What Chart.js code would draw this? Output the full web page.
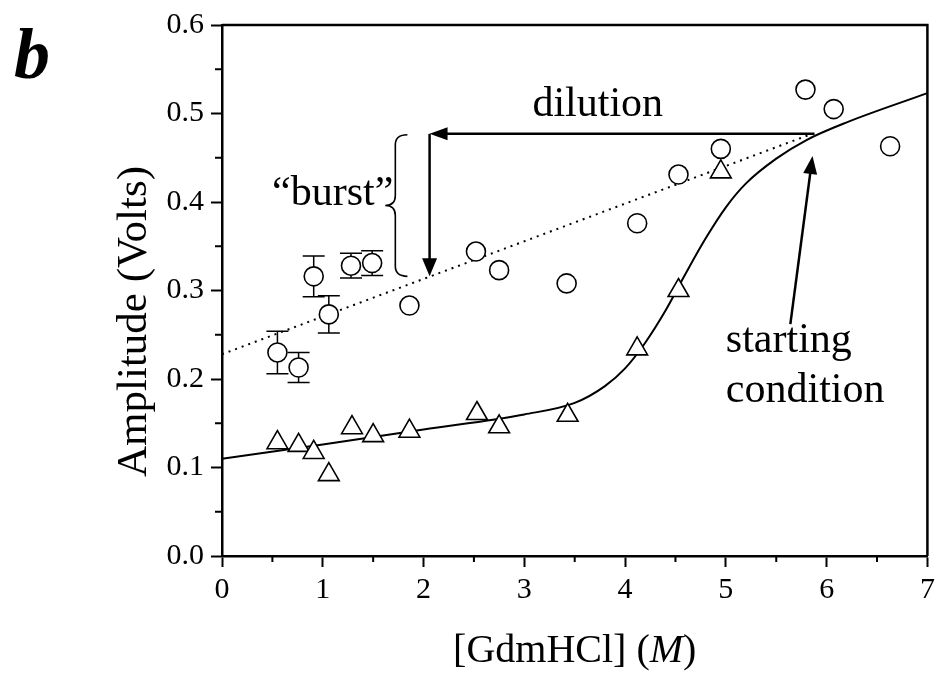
<!DOCTYPE html>
<html>
<head>
<meta charset="utf-8">
<script src="https://cdn.jsdelivr.net/npm/chart.js@4.4.1/dist/chart.umd.min.js"></script>
<style>
html, body { margin: 0; padding: 0; background: #fff; }
#wrap { width: 941px; height: 675px; position: relative; }
</style>
</head>
<body>
<div id="wrap"><canvas id="chart"></canvas></div>
<script>
// open circles, first six carry error bars
const circleX = [0.55, 0.76, 0.91, 1.06, 1.28, 1.49, 1.86, 2.52, 2.75, 3.42, 4.12, 4.53, 4.95, 5.79, 6.07, 6.63];
const circleY = [0.230, 0.213, 0.316, 0.273, 0.328, 0.331, 0.283, 0.344, 0.323, 0.308, 0.376, 0.431, 0.460, 0.527, 0.505, 0.463];
const circleErr = [0.024, 0.017, 0.023, 0.021, 0.014, 0.014];

// open triangles
const triX = [0.55, 0.76, 0.91, 1.06, 1.29, 1.50, 1.86, 2.53, 2.75, 3.43, 4.12, 4.53, 4.95];
const triY = [0.128, 0.125, 0.117, 0.092, 0.145, 0.136, 0.141, 0.161, 0.146, 0.159, 0.234, 0.300, 0.434];

// solid fit curve
const fitX = [0, 1, 2, 3, 3.5, 3.8, 4.0, 4.2, 4.4, 4.6, 4.8, 5.0, 5.2, 5.5, 5.8, 6.2, 7];
const fitY = [0.110, 0.126, 0.143, 0.160, 0.173, 0.192, 0.212, 0.241, 0.277, 0.319, 0.359, 0.394, 0.421, 0.449, 0.470, 0.490, 0.523];

// dotted line
const dotX = [0, 5.83];
const dotY = [0.228, 0.476];

const xTickLabels = ['0', '1', '2', '3', '4', '5', '6', '7'];
const yTickLabels = ['0.0', '0.1', '0.2', '0.3', '0.4', '0.5', '0.6'];

const FONT = "'Liberation Serif', 'DejaVu Serif', serif";

function pts(xs, ys) {
    return xs.map((x, i) => ({ x: x, y: ys[i] }));
}

function arrow(ctx, fx, fy, tx, ty, len, half) {
    const a = Math.atan2(ty - fy, tx - fx);
    ctx.beginPath();
    ctx.moveTo(fx, fy);
    ctx.lineTo(tx - len * 0.8 * Math.cos(a), ty - len * 0.8 * Math.sin(a));
    ctx.stroke();
    ctx.beginPath();
    ctx.moveTo(tx, ty);
    ctx.lineTo(tx - len * Math.cos(a) + half * Math.sin(a), ty - len * Math.sin(a) - half * Math.cos(a));
    ctx.lineTo(tx - len * Math.cos(a) - half * Math.sin(a), ty - len * Math.sin(a) + half * Math.cos(a));
    ctx.closePath();
    ctx.fill();
}

const errorBars = {
    id: 'errorBars',
    beforeDatasetsDraw(chart) {
        const ctx = chart.ctx;
        const xs = chart.scales.x, ys = chart.scales.y;
        ctx.save();
        ctx.strokeStyle = '#000';
        ctx.lineWidth = 1.5;
        circleErr.forEach((e, i) => {
            if (e == null) return;
            const x = xs.getPixelForValue(circleX[i]);
            const y1 = ys.getPixelForValue(circleY[i] + e);
            const y2 = ys.getPixelForValue(circleY[i] - e);
            ctx.beginPath();
            ctx.moveTo(x, y1); ctx.lineTo(x, y2);
            ctx.moveTo(x - 11, y1); ctx.lineTo(x + 11, y1);
            ctx.moveTo(x - 11, y2); ctx.lineTo(x + 11, y2);
            ctx.stroke();
        });
        ctx.restore();
    }
};

const decorations = {
    id: 'decorations',
    afterDraw(chart) {
        const ctx = chart.ctx;
        const xs = chart.scales.x, ys = chart.scales.y;
        const area = chart.chartArea;
        const X = v => xs.getPixelForValue(v);
        const Y = v => ys.getPixelForValue(v);
        ctx.save();
        ctx.strokeStyle = '#000';
        ctx.fillStyle = '#000';

        // frame top and right
        ctx.lineWidth = 2.5;
        ctx.beginPath();
        ctx.moveTo(area.left, area.top);
        ctx.lineTo(area.right, area.top);
        ctx.lineTo(area.right, area.bottom);
        ctx.stroke();

        // minor ticks
        ctx.lineWidth = 2;
        ctx.beginPath();
        for (let i = 0; i < xs.ticks.length - 1; i++) {
            const m = (X(xs.ticks[i].value) + X(xs.ticks[i + 1].value)) / 2;
            ctx.moveTo(m, area.bottom); ctx.lineTo(m, area.bottom + 6);
        }
        for (let i = 0; i < ys.ticks.length - 1; i++) {
            const m = (Y(ys.ticks[i].value) + Y(ys.ticks[i + 1].value)) / 2;
            ctx.moveTo(area.left, m); ctx.lineTo(area.left - 7, m);
        }
        ctx.stroke();

        // dilution arrow: horizontal then down
        ctx.lineWidth = 2.5;
        arrow(ctx, X(5.88), Y(0.477), X(2.06), Y(0.477), 18, 6.5);
        arrow(ctx, X(2.06), Y(0.477), X(2.06), Y(0.316), 18, 7.5);

        // starting condition arrow
        ctx.lineWidth = 2.5;
        arrow(ctx, X(5.64), Y(0.262), X(5.86), Y(0.452), 18, 7);

        // brace
        const top = Y(0.476), bot = Y(0.316), mid = (top + bot) / 2;
        const xEnd = X(1.84), xSp = X(1.72), xTip = X(1.62);
        const r = 10;
        ctx.lineWidth = 1.6;
        ctx.beginPath();
        ctx.moveTo(xEnd, top);
        ctx.quadraticCurveTo(xSp, top, xSp, top + r);
        ctx.lineTo(xSp, mid - r);
        ctx.quadraticCurveTo(xSp, mid, xTip, mid);
        ctx.quadraticCurveTo(xSp, mid, xSp, mid + r);
        ctx.lineTo(xSp, bot - r);
        ctx.quadraticCurveTo(xSp, bot, xEnd, bot);
        ctx.stroke();

        // texts
        ctx.font = '42px ' + FONT;
        ctx.textBaseline = 'alphabetic';
        ctx.textAlign = 'left';
        ctx.fillText('dilution', X(3.08), Y(0.497));
        ctx.fillText('starting', X(5.0), Y(0.230));
        ctx.fillText('condition', X(5.0), Y(0.174));
        ctx.textAlign = 'right';
        ctx.fillText('\u201Cburst\u201D', X(1.70), Y(0.397));

        // panel letter
        ctx.textAlign = 'left';
        ctx.font = 'bold italic 72px ' + FONT;
        ctx.fillText('b', 14, 78);

        // y title
        ctx.save();
        ctx.font = '43px ' + FONT;
        ctx.textAlign = 'center';
        ctx.translate(146, (area.top + area.bottom) / 2 + 31);
        ctx.rotate(-Math.PI / 2);
        ctx.fillText('Amplitude (Volts)', 0, 0);
        ctx.restore();

        // x title with italic M
        const parts = [['[GdmHCl] (', '40px '], ['M', 'italic 40px '], [')', '40px ']];
        let w = 0;
        parts.forEach(p => { ctx.font = p[1] + FONT; w += ctx.measureText(p[0]).width; });
        let cx = (area.left + area.right) / 2 - w / 2;
        ctx.textAlign = 'left';
        parts.forEach(p => {
            ctx.font = p[1] + FONT;
            ctx.fillText(p[0], cx, 662);
            cx += ctx.measureText(p[0]).width;
        });
        ctx.restore();
    }
};

const ctx = document.getElementById('chart').getContext('2d');
new Chart(ctx, {
    type: 'scatter',
    data: {
        datasets: [
            {
                label: 'circles',
                data: pts(circleX, circleY),
                pointStyle: 'circle',
                pointRadius: 9.5,
                pointBackgroundColor: '#fff',
                pointBorderColor: '#000',
                pointBorderWidth: 1.6,
                showLine: false
            },
            {
                label: 'triangles',
                data: pts(triX, triY),
                pointStyle: 'triangle',
                pointRadius: 12,
                pointBackgroundColor: '#fff',
                pointBorderColor: '#000',
                pointBorderWidth: 1.6,
                showLine: false
            },
            {
                label: 'fit',
                data: pts(fitX, fitY),
                showLine: true,
                borderColor: '#000',
                borderWidth: 2,
                pointRadius: 0,
                cubicInterpolationMode: 'monotone'
            },
            {
                label: 'dotted',
                data: pts(dotX, dotY),
                showLine: true,
                borderColor: '#000',
                borderWidth: 2,
                borderDash: [2, 5],
                pointRadius: 0
            }
        ]
    },
    options: {
        responsive: true,
        maintainAspectRatio: false,
        animation: false,
        layout: { padding: { top: 21, right: 13, left: 0, bottom: 0 } },
        plugins: { legend: { display: false }, tooltip: { enabled: false } },
        scales: {
            x: {
                type: 'linear',
                min: 0, max: 7,
                afterFit: s => { s.height = 119; },
                ticks: {
                    stepSize: 1,
                    color: '#000',
                    padding: 5,
                    font: { family: FONT, size: 30 },
                    callback: (v, i) => xTickLabels[i]
                },
                grid: { drawOnChartArea: false, drawTicks: true, tickLength: 11, tickWidth: 2, tickColor: '#000' },
                border: { display: true, color: '#000', width: 2.5 }
            },
            y: {
                type: 'linear',
                min: 0, max: 0.6,
                afterFit: s => { s.width = 222; },
                ticks: {
                    stepSize: 0.1,
                    color: '#000',
                    padding: 7,
                    font: { family: FONT, size: 30 },
                    callback: (v, i) => yTickLabels[i]
                },
                grid: { drawOnChartArea: false, drawTicks: true, tickLength: 11, tickWidth: 2, tickColor: '#000' },
                border: { display: true, color: '#000', width: 2.5 }
            }
        }
    },
    plugins: [errorBars, decorations]
});
</script>
</body>
</html>
